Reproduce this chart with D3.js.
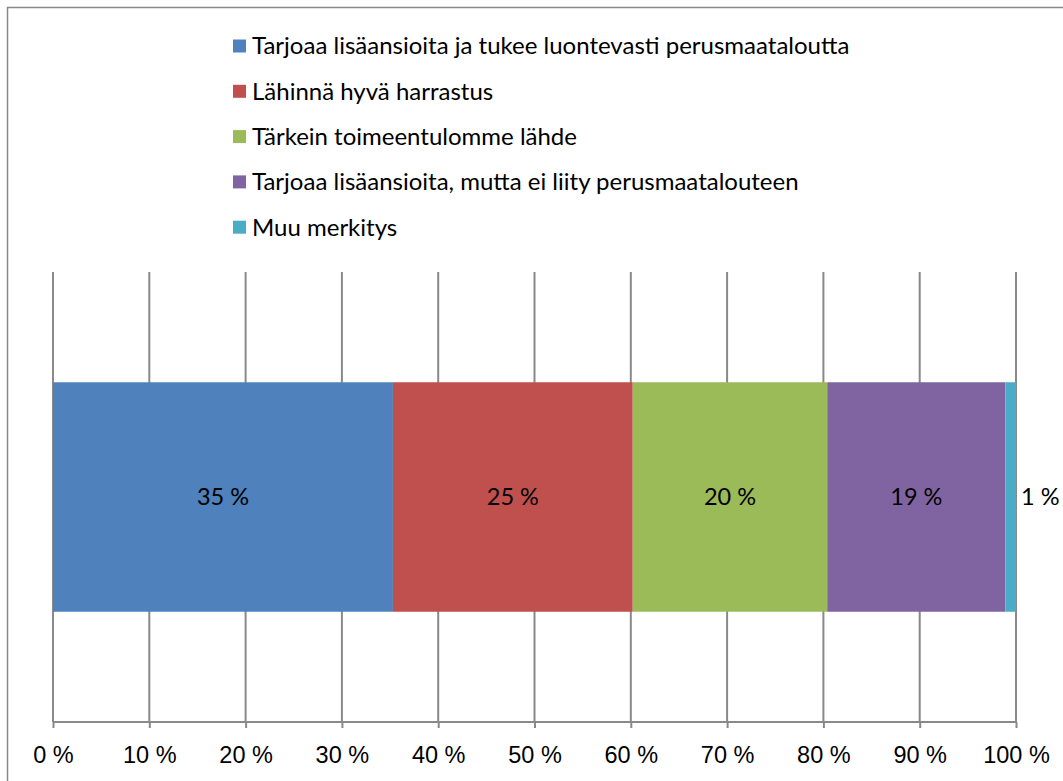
<!DOCTYPE html>
<html>
<head>
<meta charset="utf-8">
<script src="https://cdn.jsdelivr.net/npm/d3@7"></script>
<style>
  body { margin: 0; background: #fff; }
  svg { display: block; font-family: Lato, 'Open Sans', sans-serif; }
  .tick-label { font-size: 23.5px; fill: #000; }
  .legend-label { font-size: 24px; fill: #000; }
  .value-label { font-size: 23.5px; fill: #000; }
</style>
</head>
<body>
<svg></svg>
<script>
// chart data
const categories = [
  'Tarjoaa lisäansioita ja tukee luontevasti perusmaataloutta',
  'Lähinnä hyvä harrastus',
  'Tärkein toimeentulomme lähde',
  'Tarjoaa lisäansioita, mutta ei liity perusmaatalouteen',
  'Muu merkitys'
]
const shares = [35.3, 24.9, 20.2, 18.5, 1.1]
const valueLabels = ['35 %', '25 %', '20 %', '19 %', '1 %']
const colors = ['#4F81BD', '#C0504D', '#9BBB59', '#8064A2', '#4BACC6']
const tickValues = [0, 10, 20, 30, 40, 50, 60, 70, 80, 90, 100]

const w = 1063
const h = 781

const svg = d3.select('svg')
  .attr('width', w)
  .attr('height', h)

// outer frame (only top and left edge visible)
svg.append('path')
  .attr('d', `M7.5,${h} V7.5 H${w}`)
  .attr('fill', 'none')
  .attr('stroke', '#888')
  .attr('stroke-width', 1.5)

// scales
const xScale = d3.scaleLinear()
  .domain([0, 100])
  .range([53, 1016])

const plotTop = 272
const plotBottom = 722

const yScale = d3.scaleBand()
  .domain(['bar'])
  .range([plotTop, plotBottom])
  .paddingInner(0.49)
  .paddingOuter(0.245)

// gridlines
svg.append('g')
  .selectAll('line')
  .data(tickValues)
  .enter()
  .append('line')
  .attr('x1', d => xScale(d))
  .attr('x2', d => xScale(d))
  .attr('y1', plotTop)
  .attr('y2', plotBottom)
  .attr('stroke', '#898989')
  .attr('stroke-width', 2)

// stacked segments
let acc = 0
const segments = shares.map((v, i) => {
  const s = { start: acc, end: acc + v, color: colors[i], label: valueLabels[i], i }
  acc += v
  return s
})

const barY = yScale('bar')
const barH = yScale.bandwidth()

svg.append('g')
  .selectAll('rect')
  .data(segments)
  .enter()
  .append('rect')
  .attr('x', d => xScale(d.start))
  .attr('y', barY)
  .attr('width', d => xScale(d.end) - xScale(d.start))
  .attr('height', barH)
  .attr('fill', d => d.color)

// value labels (last one sits outside the bar)
svg.append('g')
  .selectAll('text')
  .data(segments)
  .enter()
  .append('text')
  .attr('class', 'value-label')
  .attr('x', d => d.i === segments.length - 1 ? xScale(d.end) + 5 : (xScale(d.start) + xScale(d.end)) / 2)
  .attr('y', barY + barH / 2)
  .attr('dy', '0.35em')
  .attr('text-anchor', d => d.i === segments.length - 1 ? 'start' : 'middle')
  .text(d => d.label)

// x axis
const xAxis = d3.axisBottom(xScale)
  .tickValues(tickValues)
  .tickSize(6)
  .tickFormat(d => `${d} %`)

const axisG = svg.append('g')
  .attr('transform', `translate(0, ${plotBottom})`)
  .call(xAxis)

axisG.select('.domain')
  .attr('stroke', '#898989')
  .attr('stroke-width', 2)
  .attr('d', `M${xScale(0)},0H${xScale(100)}`)
axisG.selectAll('.tick line')
  .attr('stroke', '#898989')
  .attr('stroke-width', 2)
axisG.selectAll('.tick text')
  .attr('class', 'tick-label')
  .attr('font-family', null)
  .attr('font-size', null)
  .attr('y', 24)
  .attr('dy', '0.71em')

// legend
const legend = svg.append('g')
  .selectAll('g')
  .data(categories)
  .enter()
  .append('g')
  .attr('transform', (d, i) => `translate(233, ${46 + i * 45.3})`)

legend.append('rect')
  .attr('x', 0)
  .attr('y', -6.5)
  .attr('width', 13)
  .attr('height', 13)
  .attr('fill', (d, i) => colors[i])

legend.append('text')
  .attr('class', 'legend-label')
  .attr('x', 19)
  .attr('y', 0)
  .attr('dy', '0.35em')
  .text(d => d)
</script>
</body>
</html>
